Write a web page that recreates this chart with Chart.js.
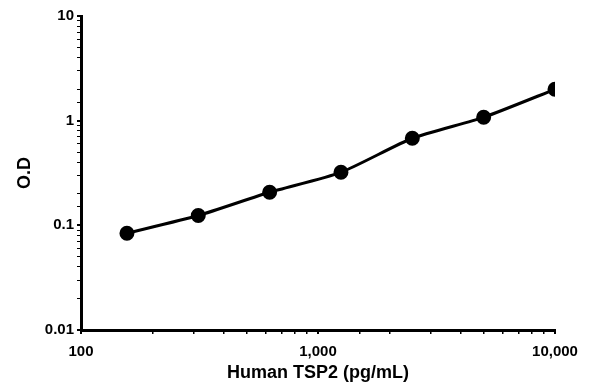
<!DOCTYPE html>
<html>
<head>
<meta charset="utf-8">
<script src="https://cdn.jsdelivr.net/npm/chart.js@4"></script>
<style>
  html, body { margin: 0; padding: 0; background: #fff; }
</style>
</head>
<body>
<canvas id="tspChart" width="596" height="392"></canvas>
<script>
// concentrations (pg/mL) and optical density readings
var concentrations = [156.25, 312.5, 625, 1250, 2500, 5000, 10000];
var odValues = [0.084, 0.124, 0.207, 0.321, 0.679, 1.077, 1.995];
var xTickLabels = [100, 1000, 10000];
var yTickLabels = [0.01, 0.1, 1, 10];

function isMajor(v, list) {
  return list.some(function (t) { return Math.abs(t - v) / t < 1e-6; });
}

var boldFont = { family: 'Liberation Sans, Arial, sans-serif', size: 15, weight: 'bold' };

new Chart(document.getElementById('tspChart'), {
  type: 'line',
  data: {
    datasets: [{
      data: concentrations.map(function (c, i) { return { x: c, y: odValues[i] }; }),
      borderColor: '#000',
      backgroundColor: '#000',
      borderWidth: 3,
      pointRadius: 6,
      pointHoverRadius: 6,
      tension: 0.2,
      fill: false
    }]
  },
  options: {
    responsive: false,
    animation: false,
    layout: { padding: { left: 14, right: 41, top: 16, bottom: 0 } },
    plugins: {
      legend: { display: false },
      tooltip: { enabled: false }
    },
    scales: {
      x: {
        type: 'logarithmic',
        min: 100,
        max: 10000,
        border: { color: '#000', width: 3 },
        grid: {
          drawOnChartArea: false,
          drawTicks: true,
          tickLength: 4,
          color: '#000',
          lineWidth: function (ctx) { return isMajor(ctx.tick.value, xTickLabels) ? 2 : 1.5; }
        },
        ticks: {
          autoSkip: false,
          maxRotation: 0,
          padding: 9,
          color: '#000',
          font: boldFont,
          callback: function (v) {
            return isMajor(v, xTickLabels) ? v.toLocaleString('en-US') : '';
          }
        },
        title: {
          display: true,
          text: 'Human TSP2 (pg/mL)',
          color: '#000',
          font: { family: 'Liberation Sans, Arial, sans-serif', size: 18, weight: 'bold' },
          padding: { top: 0, bottom: 8 }
        },
        afterFit: function (scale) { scale.height = 62; }
      },
      y: {
        type: 'logarithmic',
        min: 0.01,
        max: 10,
        border: { color: '#000', width: 3 },
        grid: {
          drawOnChartArea: false,
          drawTicks: true,
          tickLength: 4,
          color: '#000',
          lineWidth: function (ctx) { return isMajor(ctx.tick.value, yTickLabels) ? 2 : 1; }
        },
        ticks: {
          autoSkip: false,
          padding: 3,
          color: '#000',
          font: boldFont,
          callback: function (v) {
            return isMajor(v, yTickLabels) ? String(v) : '';
          }
        },
        title: {
          display: true,
          text: 'O.D',
          color: '#000',
          font: { family: 'Liberation Sans, Arial, sans-serif', size: 18, weight: 'bold' },
          padding: { top: 0, bottom: 8 }
        },
        afterFit: function (scale) { scale.width = 67; }
      }
    }
  }
});
</script>
</body>
</html>
